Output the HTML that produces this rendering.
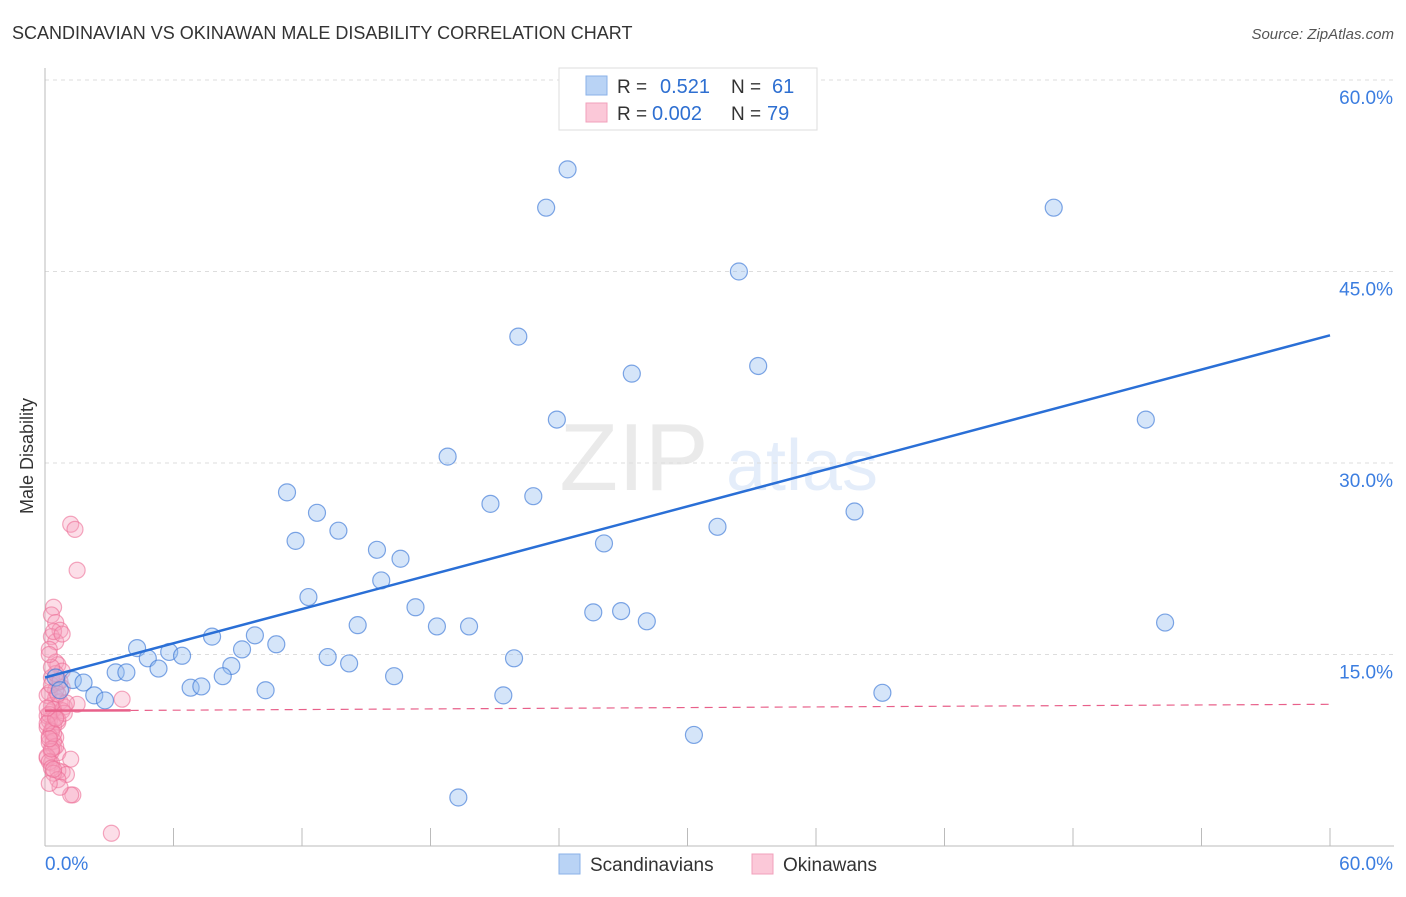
<!DOCTYPE html>
<html><head><meta charset="utf-8"><style>
body{margin:0;background:#fff;font-family:"Liberation Sans",sans-serif;}
svg text{font-family:"Liberation Sans",sans-serif;}
</style></head><body>
<svg id="chart" width="1406" height="892" xmlns="http://www.w3.org/2000/svg">
<text x="12" y="39" font-size="18" fill="#333">SCANDINAVIAN VS OKINAWAN MALE DISABILITY CORRELATION CHART</text>
<text x="1394" y="39" font-size="15" fill="#555" text-anchor="end" font-style="italic">Source: ZipAtlas.com</text>
<text transform="translate(33,456) rotate(-90)" font-size="18" fill="#333" text-anchor="middle">Male Disability</text>
<g opacity="0.13"><text x="634" y="490" font-size="96" font-family="Liberation Serif" fill="#666" text-anchor="middle">ZIP</text><text x="802" y="490" font-size="72" fill="#3b7de0" text-anchor="middle">atlas</text></g>
<g id="grid"></g><g id="axes"></g><g id="pink"></g><g id="blue"></g><g id="lines"></g>
<g>
<rect x="559" y="68" width="258" height="62" fill="#fff" stroke="#ddd"/>
<rect x="586" y="76" width="21" height="19" fill="#b9d3f5" stroke="#8ab2e8"/>
<rect x="586" y="103" width="21" height="19" fill="#fbc8d8" stroke="#f2a0bb"/>
<text x="617" y="93" font-size="19" fill="#333">R = </text><text x="660" y="93" font-size="20" fill="#2e6fd1">0.521</text>
<text x="731" y="93" font-size="19" fill="#333">N = </text><text x="772" y="93" font-size="20" fill="#2e6fd1">61</text>
<text x="617" y="120" font-size="19" fill="#333">R = </text><text x="652" y="120" font-size="20" fill="#2e6fd1">0.002</text>
<text x="731" y="120" font-size="19" fill="#333">N = </text><text x="767" y="120" font-size="20" fill="#2e6fd1">79</text>
</g>
<g>
<rect x="559" y="854" width="21" height="20" fill="#b9d3f5" stroke="#8ab2e8"/>
<text x="590" y="871" font-size="19" fill="#333">Scandinavians</text>
<rect x="752" y="854" width="21" height="20" fill="#fbc8d8" stroke="#f2a0bb"/>
<text x="783" y="871" font-size="19" fill="#333">Okinawans</text>
</g>
</svg>
<script>
const yTicks=[15,30,45,60];
const yTickLabels=["15.0%","30.0%","45.0%","60.0%"];
const xTicks=[0,6,12,18,24,30,36,42,48,54,60];
const blueX=[24.4,23.4,47.1,32.4,22.1,27.4,33.3,23.9,51.4,18.8,11.3,20.8,22.8,12.7,13.7,37.8,31.4,11.7,26.1,15.5,16.6,15.7,12.3,17.3,25.6,26.9,28.1,52.3,14.6,18.3,19.8,7.8,9.8,10.8,9.2,4.3,5.8,4.8,6.4,13.2,14.2,21.9,5.3,8.7,3.3,3.8,8.3,16.3,1.3,1.8,0.5,6.8,7.3,10.3,0.7,2.3,2.8,21.4,39.1,30.3,19.3];
const blueY=[53.0,50.0,50.0,45.0,39.9,37.0,37.6,33.4,33.4,30.5,27.7,26.8,27.4,26.1,24.7,26.2,25.0,23.9,23.7,23.2,22.5,20.8,19.5,18.7,18.3,18.4,17.6,17.5,17.3,17.2,17.2,16.4,16.5,15.8,15.4,15.5,15.2,14.7,14.9,14.8,14.3,14.7,13.9,14.1,13.6,13.6,13.3,13.3,13.0,12.8,13.2,12.4,12.5,12.2,12.2,11.8,11.4,11.8,12.0,8.7,3.8];
const pinkX=[1.2,1.4,1.5,0.4,0.3,0.5,0.7,0.3,0.5,0.2,0.5,0.6,0.8,0.3,0.6,0.8,0.2,0.5,0.7,0.9,0.3,0.5,0.6,0.1,0.3,0.5,0.2,0.4,0.6,0.1,0.3,1.2,0.8,0.6,1.0,1.3,1.2,3.1,3.6,1.5,0.4,0.5,0.8,0.3,0.1,0.2,0.4,0.3,0.2,0.4,0.5,0.3,0.1,0.2,0.3,0.4,0.6,0.7,0.2,0.1,0.3,0.5,0.4,0.2,0.6,0.9,1.0,0.7,0.3,0.2,0.4,0.1,0.5,0.6,0.3,0.2,0.8,0.4,0.1];
const pinkY=[25.2,24.8,21.6,18.7,18.1,17.5,16.9,16.4,16.0,15.4,14.4,14.2,13.7,13.2,12.8,12.4,12.0,11.6,11.3,10.9,10.5,10.1,9.7,9.3,8.9,8.5,8.1,7.7,7.3,6.9,6.5,6.8,5.8,5.9,5.6,4.0,4.0,1.0,11.5,11.1,16.8,12.2,10.6,11.0,10.2,9.8,9.4,9.0,8.6,8.2,7.8,7.4,7.0,6.6,6.1,5.7,5.2,4.6,4.9,11.8,12.6,13.5,10.7,10.3,9.9,10.4,11.2,12.9,14.0,15.0,8.8,9.6,10.0,11.9,7.6,8.4,16.6,6.0,10.8];
const X=v=>45+v/60*1285, Y=v=>846-v/15*191.5;
const NS="http://www.w3.org/2000/svg";
function mk(tag,attrs,parent){const e=document.createElementNS(NS,tag);for(const k in attrs)e.setAttribute(k,attrs[k]);document.getElementById(parent).appendChild(e);return e;}
yTicks.forEach((t,i)=>{
 const g=mk('line',{x1:45,x2:1394,y1:Y(t),y2:Y(t),stroke:'#ddd','stroke-dasharray':'4,4'},'grid');
 
 
 const l=mk('text',{x:1393,y:Y(t)+24,'font-size':19,fill:'#3b7de0','text-anchor':'end'},'axes');
 l.textContent=yTickLabels[i];
 
 
});
const ax=mk('line',{x1:45,x2:45,y1:68,y2:846,stroke:'#bbb'},'axes');


const bx=mk('line',{x1:45,x2:1394,y1:846,y2:846,stroke:'#bbb'},'axes');


xTicks.forEach(t=>{
 const tk=mk('line',{x1:X(t),x2:X(t),y1:828,y2:846,stroke:'#bbb'},'axes');
 
 
});
const xl0=mk('text',{x:45,y:870,'font-size':19,fill:'#3b7de0'},'axes');xl0.textContent='0.0%';


const xl1=mk('text',{x:1393,y:870,'font-size':19,fill:'#3b7de0','text-anchor':'end'},'axes');xl1.textContent='60.0%';


pinkX.forEach((v,i)=>{
 const c=mk('circle',{cx:X(v),cy:Y(pinkY[i]),r:8,fill:'rgba(247,160,190,0.35)',stroke:'rgba(236,110,150,0.6)','stroke-width':1.2},'pink');
 
 
});
blueX.forEach((v,i)=>{
 const c=mk('circle',{cx:X(v),cy:Y(blueY[i]),r:8.5,fill:'rgba(150,190,240,0.4)',stroke:'rgba(60,120,215,0.65)','stroke-width':1.2},'blue');
 
 
});
const bt=mk('line',{x1:X(0),y1:Y(13.2),x2:X(60),y2:Y(40.0),stroke:'#2a6fd6','stroke-width':2.5},'lines');


const ps=mk('line',{x1:X(0),y1:Y(10.6),x2:X(4),y2:Y(10.62),stroke:'#e8608a','stroke-width':2.5},'lines');


const pd=mk('line',{x1:X(4),y1:Y(10.62),x2:X(60),y2:Y(11.1),stroke:'#e8608a','stroke-width':1.2,'stroke-dasharray':'8,6'},'lines');


</script>
</body></html>
